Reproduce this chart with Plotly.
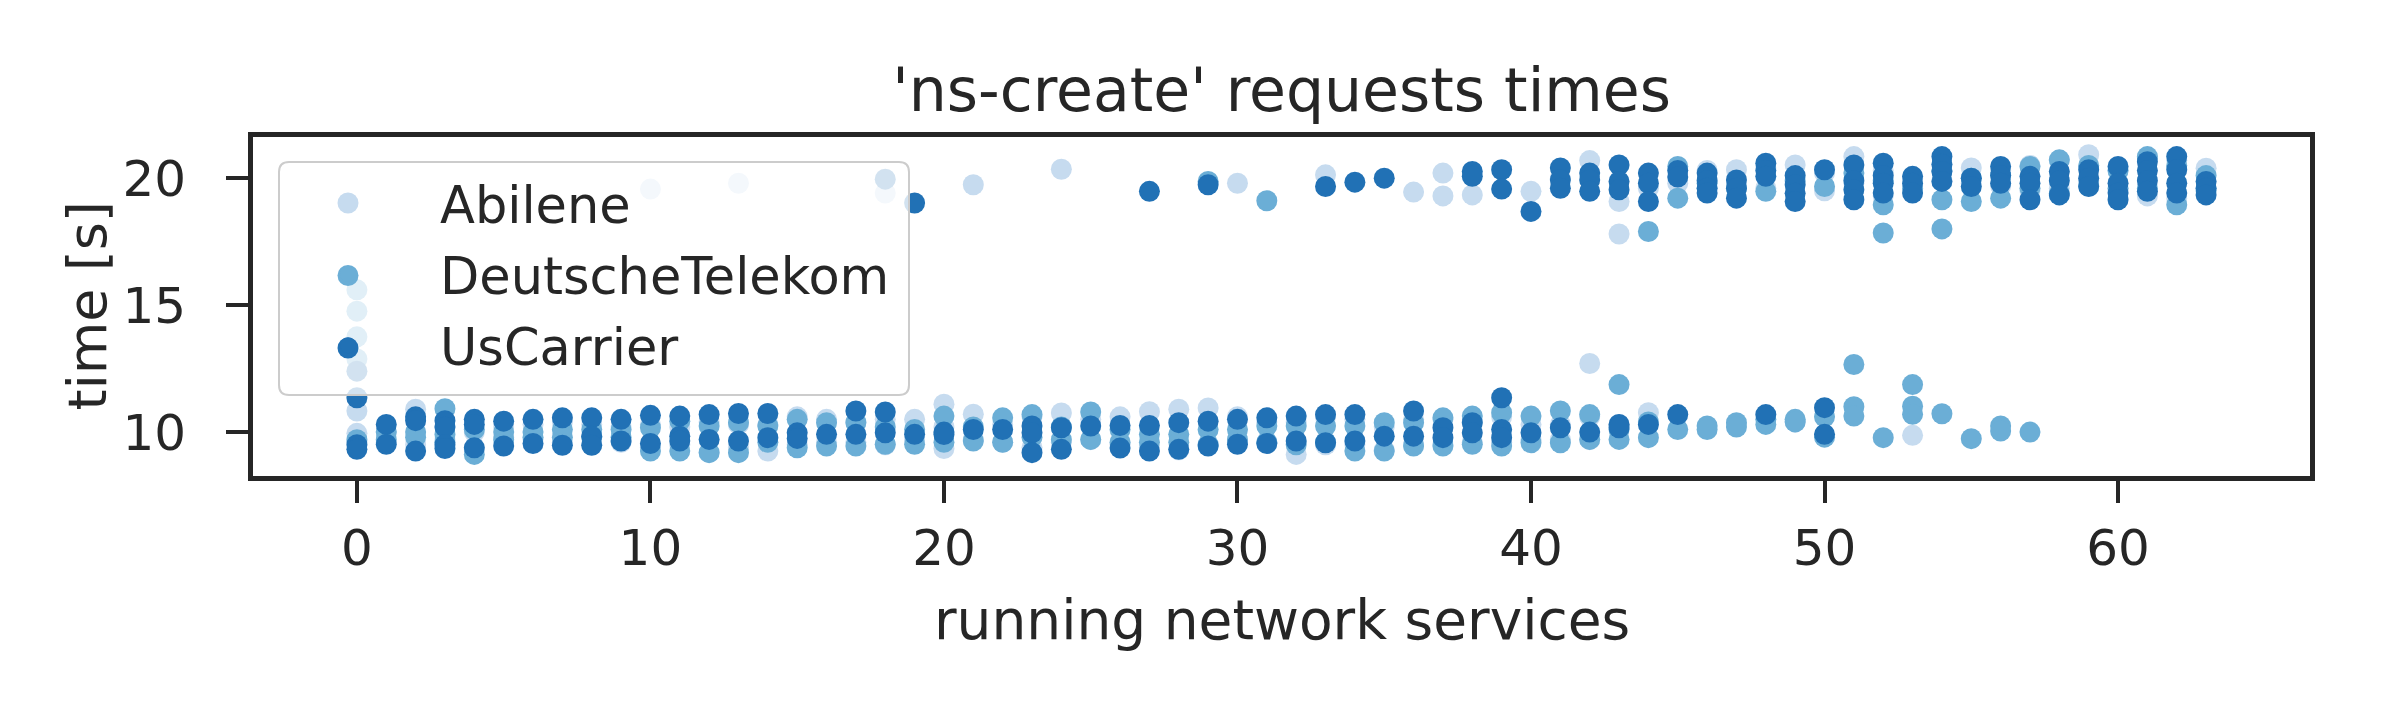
import plotly.graph_objects as go

# running network services (x) -> list of request times [s] per topology
services = list(range(64))

abilene = [
    [10.83, 9.95, 9.6], [10.0, 9.6], [10.9, 9.5], [10.2, 9.7], [10.0, 9.3],
    [10.2, 9.8], [10.3, 9.7], [10.4, 9.6], [10.3, 9.5], [10.2, 9.6],
    [19.57, 10.3, 9.4], [10.2, 9.5], [10.4, 9.2], [19.80, 10.3, 9.4], [10.3, 9.25],
    [10.6, 9.5], [10.5, 9.6], [10.4, 9.6], [19.41, 10.5, 9.5], [10.5, 9.7],
    [11.1, 10.2, 9.35], [19.74, 10.7, 9.7], [10.3, 9.6], [10.6, 9.4], [20.35, 10.75, 9.6],
    [10.5, 9.7], [10.6, 9.5], [10.8, 9.4], [10.9, 9.3], [10.95, 9.5],
    [19.80, 10.6, 9.6], [10.4, 9.6], [10.4, 9.12], [20.13, 10.6, 9.5], [10.5, 9.5],
    [10.2, 9.3], [19.45, 10.5, 9.5], [20.2, 19.3, 10.5, 9.5], [19.34, 10.4, 9.6], [10.6, 9.6],
    [19.48, 10.3, 9.7], [20.0, 10.3, 9.7], [20.69, 12.70, 10.6, 9.7], [19.08, 17.8, 10.3], [10.76, 19.6],
    [20.3, 19.8], [20.3, 19.6], [20.33, 19.7], [20.4, 19.6], [20.52, 10.4],
    [20.2, 19.5], [20.85, 19.8], [20.3, 19.3], [9.87, 20.0], [20.5, 19.9],
    [20.4, 19.8], [20.3, 19.7], [20.5, 19.5], [20.7, 19.6], [20.92, 19.9],
    [20.3, 19.5], [20.8, 19.3], [20.7, 19.2], [20.39, 19.6],
]

deutsche_telekom = [
    [15.6, 14.76, 13.75, 12.88, 9.7], [10.0, 9.7], [10.0, 9.8], [10.92, 9.9, 9.6], [10.1, 9.12],
    [10.0, 9.7], [10.0, 9.8], [10.1, 9.8], [10.1, 9.8], [10.1, 9.8],
    [10.17, 9.25], [10.43, 9.25], [10.24, 9.19], [10.37, 9.19], [10.24, 9.6],
    [10.5, 9.38], [10.37, 9.45], [10.37, 9.45], [10.2, 9.52], [10.1, 9.52],
    [10.63, 9.6], [10.2, 9.65], [10.56, 9.6], [10.69, 9.8], [10.2, 9.7],
    [10.79, 9.71], [10.1, 9.6], [9.91, 9.6], [9.91, 9.6], [19.87, 10.1, 9.5],
    [10.1, 9.7], [19.11, 10.24, 9.6], [10.24, 9.5], [10.24, 9.6], [10.24, 9.25],
    [10.37, 9.25], [10.37, 9.45], [10.56, 9.45], [10.63, 9.52], [10.76, 9.45],
    [10.63, 9.58], [10.83, 9.58], [10.69, 9.71], [11.87, 10.1, 9.71], [17.9, 10.4, 9.78],
    [20.46, 19.21, 10.1], [19.8, 10.24, 10.1], [19.6, 10.37, 10.2], [19.48, 10.5, 10.3], [19.9, 10.5, 10.4],
    [19.67, 10.6, 9.8], [12.66, 11.0, 10.63, 20.2], [18.95, 17.84, 9.78, 19.9], [11.87, 11.02, 10.7, 19.6], [19.15, 18.0, 10.72, 20.3],
    [19.08, 9.74, 20.0], [19.21, 10.24, 10.04, 20.1], [20.46, 10.0, 19.6], [20.72, 19.4], [20.5, 19.7],
    [20.3, 19.6], [20.85, 19.6], [18.95, 20.5], [20.1, 19.5],
]

us_carrier = [
    [12.40, 11.35, 9.5, 9.32], [10.30, 9.52], [10.6, 10.45, 9.25], [10.45, 10.2, 9.5, 9.35], [10.5, 10.3, 9.38],
    [10.43, 9.45], [10.5, 9.55], [10.56, 9.48], [10.56, 9.84, 9.48], [10.5, 9.65],
    [10.66, 9.55], [10.63, 9.84, 9.65], [10.69, 9.71], [10.73, 9.65], [10.73, 9.78],
    [9.97, 9.75], [9.91], [10.83, 9.91], [19.96, 10.79, 9.97], [19.02, 9.91],
    [10.0, 9.9], [10.1], [10.1], [10.24, 9.97, 9.19], [10.17, 9.32],
    [10.24], [10.26, 9.37], [19.48, 10.26, 9.25], [10.37, 9.32], [19.74, 10.43, 9.45],
    [10.5, 9.52], [10.56, 9.55], [10.63, 9.65], [19.67, 10.69, 9.58], [19.84, 10.69, 9.65],
    [20.0, 9.84], [10.83, 9.84], [10.17, 9.78], [20.26, 20.07, 10.37, 9.97], [20.33, 19.57, 11.35, 10.1, 9.78],
    [18.69, 9.97], [20.4, 19.93, 19.6, 10.17], [20.2, 19.93, 19.48, 10.0], [20.52, 19.87, 19.54, 10.3, 10.17], [20.2, 19.8, 19.08, 10.3],
    [20.3, 20.04, 10.69], [20.2, 19.9, 19.6, 19.41], [19.93, 19.6, 19.21], [20.59, 20.3, 20.07, 10.69], [20.1, 19.74, 19.4, 19.08],
    [20.33, 10.96, 9.91], [20.52, 19.9, 19.54, 19.15], [20.59, 20.1, 19.8, 19.41], [20.07, 19.8, 19.41], [20.85, 20.55, 20.26, 19.87],
    [20.0, 19.67], [20.46, 20.1, 19.8], [20.07, 19.8, 19.15], [20.26, 19.9, 19.34], [20.33, 20.0, 19.67],
    [20.46, 19.8, 19.41, 19.15], [20.65, 20.3, 19.9, 19.48], [20.85, 20.33, 19.8, 19.41], [19.87, 19.6, 19.34],
]

series_names = ["Abilene", "DeutscheTelekom", "UsCarrier"]
series_values = [abilene, deutsche_telekom, us_carrier]
series_colors = ["#c6dbef", "#6baed6", "#2171b5"]

x_ticks = [0, 10, 20, 30, 40, 50, 60]
y_ticks = [10, 15, 20]

FONT = "DejaVu Sans"
TXT = "#262626"

fig = go.Figure()
for name, vals, col in zip(series_names, series_values, series_colors):
    xs, ys = [], []
    for xv, lst in zip(services, vals):
        for v in lst:
            xs.append(xv)
            ys.append(v)
    fig.add_trace(go.Scatter(
        x=xs, y=ys, mode="markers", name=name, legendgroup=name,
        marker=dict(color=col, size=21, line=dict(width=0)),
    ))

axis_common = dict(
    showline=True, linecolor=TXT, linewidth=5, mirror=True,
    ticks="outside", ticklen=22, tickwidth=4, tickcolor=TXT,
    showgrid=False, zeroline=False, automargin=False,
    tickfont=dict(family=FONT, size=50, color=TXT),
)

# layout geometry (pixels)
W, H, L, R, T, B = 2400, 720, 253, 90, 137, 244
pw, ph = W - L - R, H - T - B


def px_x(p):
    return (p - L) / pw


def px_y(p):
    return (H - B - p) / ph


# semi-transparent legend frame (drawn above the markers, like matplotlib's legend)
bx0, bx1 = px_x(279), px_x(909)
by0, by1 = px_y(395), px_y(162)
rx, ry = 10 / pw, 10 / ph
frame_path = (
    f"M {bx0+rx},{by1} L {bx1-rx},{by1} Q {bx1},{by1} {bx1},{by1-ry} "
    f"L {bx1},{by0+ry} Q {bx1},{by0} {bx1-rx},{by0} "
    f"L {bx0+rx},{by0} Q {bx0},{by0} {bx0},{by0+ry} "
    f"L {bx0},{by1-ry} Q {bx0},{by1} {bx0+rx},{by1} Z"
)
fig.add_shape(type="path", path=frame_path, xref="paper", yref="paper",
              fillcolor="rgba(255,255,255,0.8)", line=dict(color="#cccccc", width=2),
              layer="above")

# enlarge legend swatches (plotly caps legend markers at 16px)
legend_rows = [203, 275.5, 348]
for col, cy in zip(series_colors, legend_rows):
    fig.add_shape(type="circle", xref="paper", yref="paper",
                  x0=px_x(348 - 10.5), x1=px_x(348 + 10.5),
                  y0=px_y(cy + 10.5), y1=px_y(cy - 10.5),
                  fillcolor=col, line=dict(width=0), layer="above")

fig.add_annotation(text="running network services", xref="paper", yref="paper",
                   x=0.5, y=px_y(620), xanchor="center", yanchor="middle",
                   showarrow=False, font=dict(family=FONT, size=55, color=TXT))
fig.add_annotation(text="time [s]", xref="paper", yref="paper", textangle=-90,
                   x=px_x(87), y=0.5, xanchor="center", yanchor="middle",
                   showarrow=False, font=dict(family=FONT, size=54, color=TXT))

fig.update_layout(
    width=W, height=H,
    paper_bgcolor="white", plot_bgcolor="white",
    margin=dict(l=L, r=R, t=T, b=B),
    font=dict(family=FONT, color=TXT),
    title=dict(text="'ns-create' requests times", x=0.534, xanchor="center",
               y=0.875, yanchor="middle", yref="container",
               font=dict(family=FONT, size=60, color=TXT)),
    xaxis=dict(range=[-3.54, 66.54], tickvals=x_ticks, ticklabelstandoff=2,
               **axis_common),
    yaxis=dict(range=[8.27, 21.62], tickvals=y_ticks, ticklabelstandoff=30,
               **axis_common),
    legend=dict(x=px_x(256), y=px_y(163), xanchor="left", yanchor="top",
                bgcolor="rgba(0,0,0,0)", borderwidth=0,
                font=dict(family=FONT, size=51, color=TXT),
                itemsizing="trace", itemwidth=174, tracegroupgap=2,
                traceorder="grouped"),
    showlegend=True,
)

fig.write_html("out.html", config={"displayModeBar": False},
               post_script="document.body.style.margin='0px';")
